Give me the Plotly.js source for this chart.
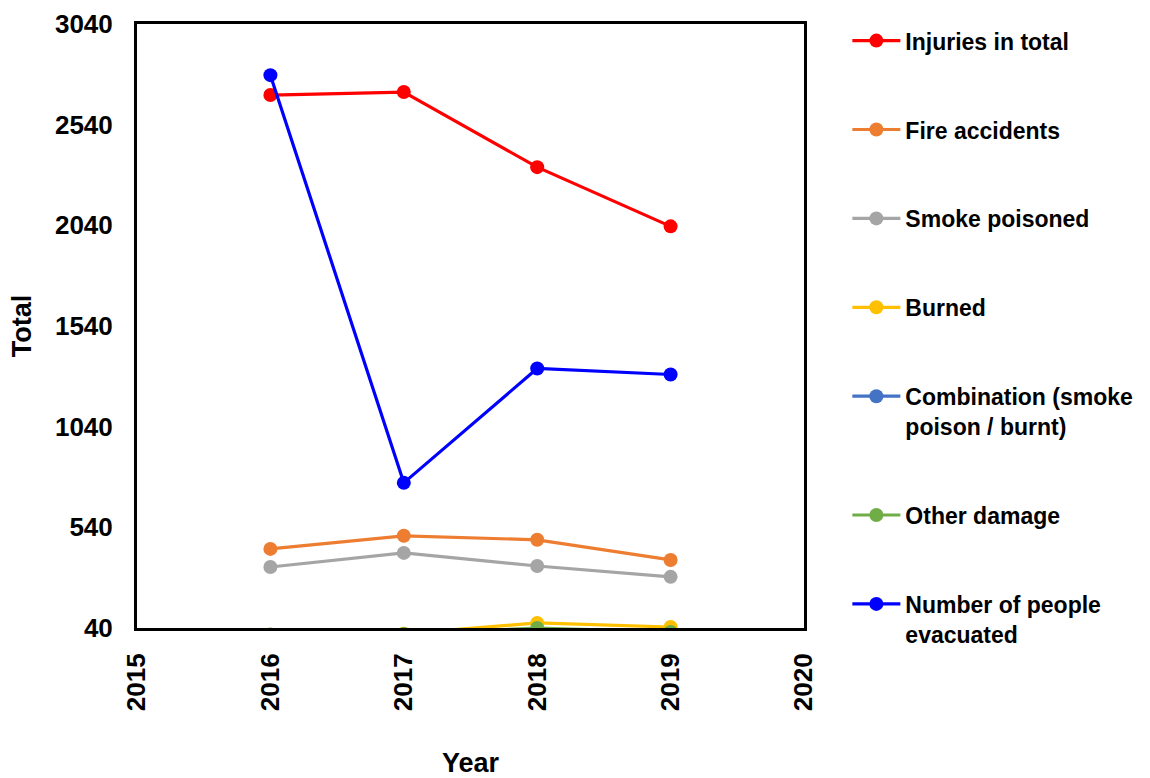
<!DOCTYPE html>
<html><head><meta charset="utf-8">
<script src="https://cdn.plot.ly/plotly-3.0.1.min.js"></script>
<style>body{margin:0;background:#fff}#chart{width:1150px;height:778px}</style>
</head><body><div id="chart"></div>
<script>
const years = [2016, 2017, 2018, 2019];
const seriesNames = ["Injuries in total", "Fire accidents", "Smoke poisoned", "Burned",
  "Combination (smoke<br>poison / burnt)", "Other damage", "Number of people<br>evacuated"];
const injuriesTotal = [2687, 2702, 2329, 2035];
const fireAccidents = [433, 498, 478, 378];
const smokePoisoned = [343, 413, 348, 294];
const burned = [5, 12, 65, 45];
const combination = [3, 5, 8, 4];
const otherDamage = [8, 10, 40, 20];
const evacuated = [2786, 761, 1329, 1299];
const colors = ["#FF0000", "#ED7D31", "#A5A5A5", "#FFC000", "#4472C4", "#70AD47", "#0000FF"];
const allSeries = [injuriesTotal, fireAccidents, smokePoisoned, burned, combination, otherDamage, evacuated];
const yTicks = [40, 540, 1040, 1540, 2040, 2540, 3040];
const xTicks = [2015, 2016, 2017, 2018, 2019, 2020];

const traces = allSeries.map((vals, i) => ({
  type: 'scatter', mode: 'lines+markers', x: years, y: vals, name: seriesNames[i],
  legendgroup: 'g' + i,
  line: {color: colors[i], width: 3.2},
  marker: {color: colors[i], size: 14},
  cliponaxis: true
}));

const fam = 'Liberation Sans, Arial, sans-serif';
const layout = {
  width: 1150, height: 778,
  margin: {l: 137, r: 344, t: 24, b: 150},
  paper_bgcolor: '#fff', plot_bgcolor: '#fff',
  font: {family: fam, size: 22, color: '#000'},
  showlegend: true,
  legend: {x: 1.065, y: 1.008, xanchor: 'left', yanchor: 'top', tracegroupgap: 56, valign: 'top',
    itemwidth: 48, maxheight: 770,
    font: {family: fam, size: 23, color: '#000', weight: 'bold'}},
  xaxis: {range: [2015, 2020], tickvals: xTicks, tickangle: -90,
    showgrid: false, zeroline: false, showline: true, linecolor: '#000', linewidth: 3, mirror: true,
    ticks: '', ticklabelstandoff: 12,
    tickfont: {family: fam, size: 26, weight: 'bold'},
    title: {text: '<b>Year</b>', font: {size: 27}, standoff: 53}},
  yaxis: {range: [40, 3040], tickvals: yTicks, showgrid: false, zeroline: false,
    showline: true, linecolor: '#000', linewidth: 3, mirror: true, ticks: '',
    ticklabelstandoff: 16,
    tickfont: {family: fam, size: 26, weight: 'bold'},
    title: {text: '<b>Total</b>', font: {size: 27}, standoff: 16}}
};
Plotly.newPlot('chart', traces, layout, {displayModeBar: false});
</script></body></html>
